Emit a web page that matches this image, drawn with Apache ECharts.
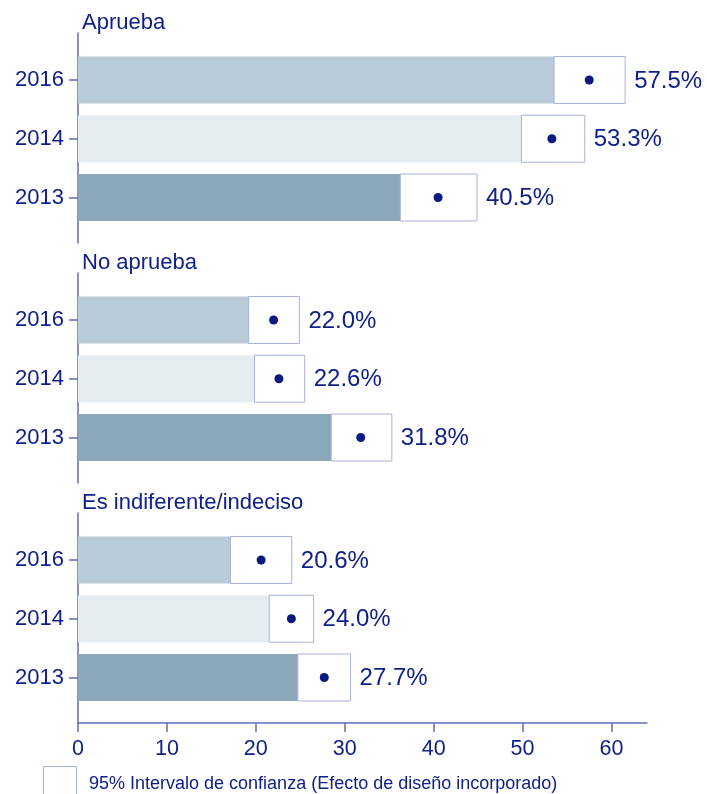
<!DOCTYPE html>
<html lang="es">
<head>
    <meta charset="UTF-8">
    <title>Aprueba / No aprueba / Es indiferente</title>
    <script src="https://cdn.jsdelivr.net/npm/echarts@6.0.0/dist/echarts.min.js"></script>
    <style>
        html, body {
            margin: 0;
            padding: 0;
            background: #fff;
        }

        #chart {
            width: 707px;
            height: 794px;
        }
    </style>
</head>
<body>
<div id="chart"></div>
<script>
    // datos
    var groups = ['Aprueba', 'No aprueba', 'Es indiferente/indeciso']
    var years = ['2016', '2014', '2013']
    var estimates = [[57.5, 53.3, 40.5], [22.0, 22.6, 31.8], [20.6, 24.0, 27.7]]
    var lower = [[53.55, 49.87, 36.25], [19.2, 19.85, 28.48], [17.15, 21.5, 24.73]]
    var upper = [[61.54, 57.0, 44.88], [24.9, 25.5, 35.3], [24.05, 26.5, 30.66]]
    var xTicks = [0, 10, 20, 30, 40, 50, 60]
    var legendText = '95% Intervalo de confianza (Efecto de diseño incorporado)'

    var yearColors = ['#B9CBD6', '#E6EDF1', '#8AA8BA']
    var navy = '#10208A'
    var axisColor = '#5F6EB9'
    var boxColor = '#AAB0DC'
    var font = 'Liberation Sans, Arial, sans-serif'
    var panelTops = [33, 273, 513]
    var barH = 47

    var chart = echarts.init(document.getElementById('chart'))

    var grid = [], xAxis = [], yAxis = [], series = [], graphic = []

    groups.forEach(function (name, g) {
        var top = panelTops[g]
        // grid de barras (0,2,4) y grid del marco (1,3,5)
        grid.push({left: 78, right: 60, top: top + 17.6, height: 176.25})
        grid.push({left: 78, right: 60, top: top, height: 210})
        var bg = g * 2, fg = g * 2 + 1

        xAxis.push({gridIndex: bg, type: 'value', min: 0, max: 64, show: false})
        xAxis.push({
            gridIndex: fg, type: 'value', min: 0, max: 64, show: g === 2,
            splitLine: {show: false},
            axisLine: {show: true, lineStyle: {color: axisColor, width: 1.5}},
            axisTick: {show: true, length: 9, lineStyle: {color: axisColor, width: 1.5}, customValues: xTicks},
            axisLabel: {color: navy, fontSize: 21.5, fontFamily: font, margin: 15, customValues: xTicks}
        })
        yAxis.push({
            gridIndex: bg, type: 'category', data: years, inverse: true,
            axisLine: {show: false},
            axisTick: {show: true, alignWithLabel: true, length: 9, lineStyle: {color: axisColor, width: 1.5}},
            axisLabel: {color: navy, fontSize: 22, fontFamily: font, margin: 14},
            splitLine: {show: false}
        })
        yAxis.push({
            gridIndex: fg, type: 'value', min: 0, max: 1,
            axisLine: {show: true, lineStyle: {color: axisColor, width: 1.5}},
            axisTick: {show: false}, axisLabel: {show: false}, splitLine: {show: false}
        })

        series.push({
            type: 'bar', xAxisIndex: bg, yAxisIndex: bg, barWidth: barH, silent: true, z: 2,
            data: estimates[g].map(function (v, i) {
                return {value: v, itemStyle: {color: yearColors[i]}}
            })
        })
        series.push({
            type: 'custom', xAxisIndex: bg, yAxisIndex: bg, silent: true, z: 3,
            encode: {x: [0, 1], y: 2},
            data: years.map(function (y, i) {
                return [lower[g][i], upper[g][i], i, estimates[g][i]]
            }),
            renderItem: function (params, api) {
                var p0 = api.coord([api.value(0), api.value(2)])
                var p1 = api.coord([api.value(1), api.value(2)])
                return {
                    type: 'group',
                    children: [{
                        type: 'rect',
                        shape: {x: p0[0], y: p0[1] - barH / 2, width: p1[0] - p0[0], height: barH},
                        style: {fill: '#fff', stroke: boxColor, lineWidth: 1}
                    }, {
                        type: 'text',
                        x: p1[0] + 9, y: p1[1] + 1,
                        style: {
                            text: api.value(3).toFixed(1) + '%',
                            fill: navy, fontSize: 24, fontFamily: font,
                            verticalAlign: 'middle', align: 'left'
                        }
                    }]
                }
            }
        })
        series.push({
            type: 'scatter', xAxisIndex: bg, yAxisIndex: bg, silent: true,
            symbolSize: 9, itemStyle: {color: '#0A1982', opacity: 1}, z: 4,
            data: estimates[g].map(function (v, i) { return [v, i] })
        })

        graphic.push({
            type: 'text', left: 82, top: top - 21,
            style: {text: name, fill: navy, fontSize: 22, fontFamily: font}
        })
    })

    // leyenda
    graphic.push({
        type: 'rect', shape: {x: 43.5, y: 766.5, width: 33, height: 40},
        style: {fill: '#fff', stroke: boxColor, lineWidth: 1}
    })
    graphic.push({
        type: 'text', x: 89, y: 784,
        style: {text: legendText, fill: navy, fontSize: 18, fontFamily: font, verticalAlign: 'middle'}
    })

    chart.setOption({
        animation: false,
        grid: grid,
        xAxis: xAxis,
        yAxis: yAxis,
        series: series,
        graphic: graphic
    })
</script>
</body>
</html>
